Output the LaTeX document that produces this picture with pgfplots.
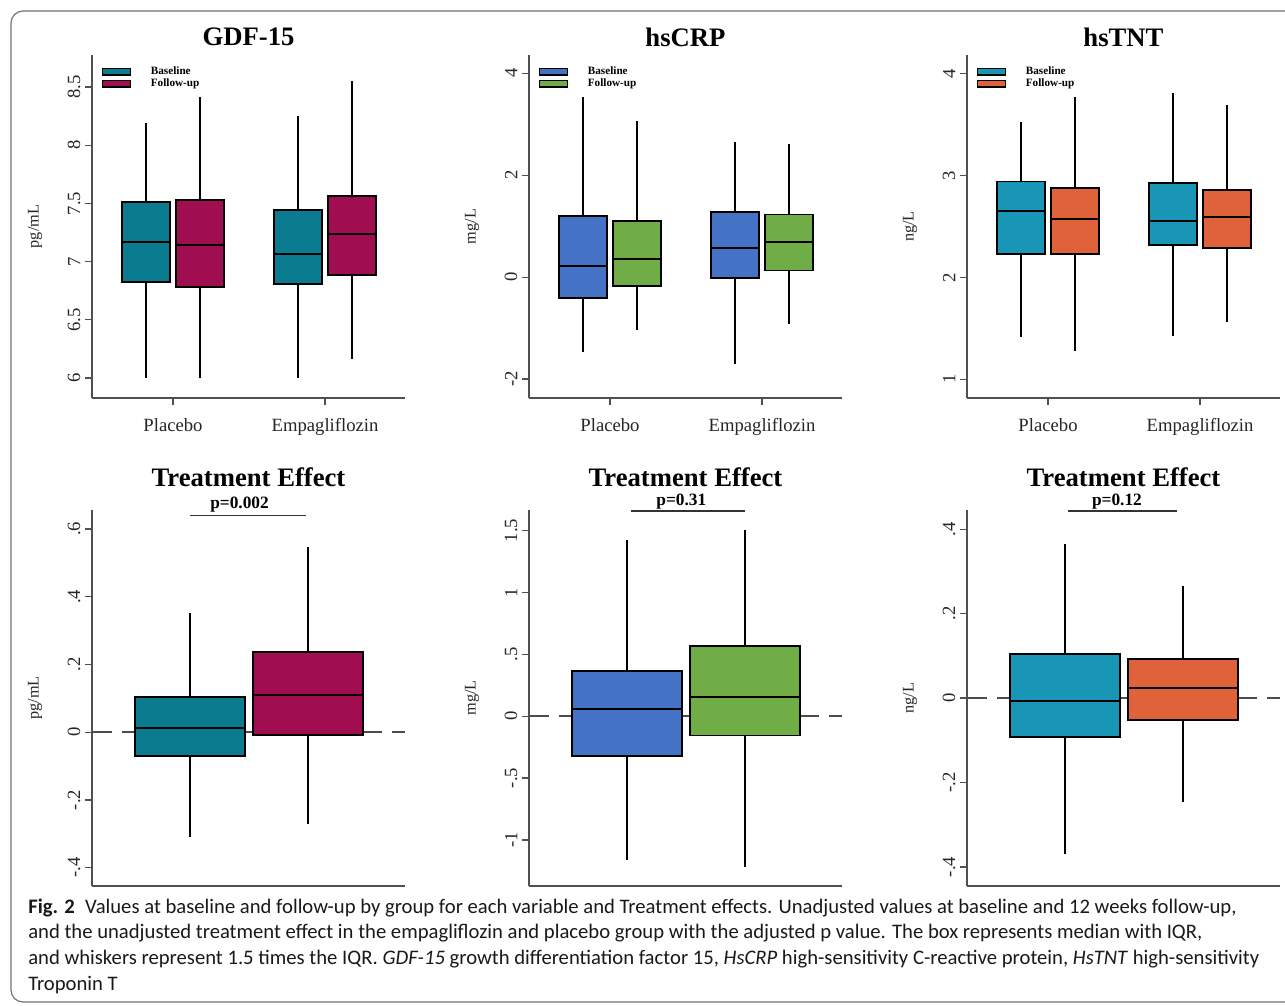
\documentclass[border=0pt]{standalone}
\usepackage{pgfplots}
\pgfplotsset{compat=1.18}
\usepgfplotslibrary{statistics}
\usepackage{fontspec}
\setmainfont{Liberation Serif}
\newfontfamily\capfont{Carlito}
\definecolor{gdfA}{HTML}{0B7B8F}
\definecolor{gdfB}{HTML}{A00D50}
\definecolor{crpA}{HTML}{4472C4}
\definecolor{crpB}{HTML}{70AD47}
\definecolor{tntA}{HTML}{1995B5}
\definecolor{tntB}{HTML}{E0623A}
\definecolor{axgray}{HTML}{505050}
\pgfplotsset{
  panel/.style={
    scale only axis, width=234.75pt,
    axis lines=left,
    axis line style={-, line width=1pt, draw=axgray},
    tick align=outside, major tick length=5.25pt,
    tick style={line width=1pt, draw=axgray},
    boxplot/draw direction=y,
    boxplot/every median/.style={draw=black, line width=1.5pt},
    /pgf/number format/assume math mode=true,
    yticklabel style={rotate=90, anchor=south, font=\fontsize{14}{16}\selectfont, text=black!85},
    xticklabel style={font=\fontsize{14}{16}\selectfont, text=black!85, yshift=-6.75pt},
    ylabel style={at={(axis description cs:-0.182,0.5)}, anchor=center, font=\fontsize{12.2}{14}\selectfont, text=black!85},
    clip=false,
  },
  toprow/.style={
    panel, height=257.25pt, xmin=0.467, xmax=2.526,
    xtick={1,2}, xticklabels={Placebo,Empagliflozin},
    title style={yshift=7.5pt, anchor=center, font=\bfseries\fontsize{20}{22}\selectfont},
    legend style={at={(axis description cs:0.032,0.974)}, anchor=north west, draw=none, fill=none,
      inner sep=0pt, font=\bfseries\fontsize{8.4}{9}\selectfont, row sep=-2.2pt,
      /tikz/every odd column/.append style={column sep=12.75pt}},
    legend cell align=left,
    legend image code/.code={\draw[#1, draw=black, line width=0.9pt] (0pt,-2.4pt) rectangle (20.8pt,2.4pt);},
  },
  botrow/.style={
    panel, height=282pt, xmin=0.176, xmax=2.815, xtick=\empty,
    title style={yshift=18.75pt, anchor=center, font=\bfseries\fontsize{20}{22}\selectfont},
  },
  zeroline/.style={forget plot, draw=black!70, line width=1.4pt, dash pattern=on 15pt off 7.5pt},
}
\begin{document}
\begin{tikzpicture}
\path[use as bounding box] (0,0) rectangle (963.75pt,754.5pt);
\draw[rounded corners=9pt, draw=black!55, line width=0.9pt] (980pt,746.25pt) -- (8.25pt,746.25pt) -- (8.25pt,3pt) -- (980pt,3pt);

% ---------- GDF-15 ----------
\begin{axis}[toprow, at={(69pt,456pt)}, anchor=south west, title={GDF-15},
  ymin=5.828, ymax=8.775, ytick={6,6.5,7,7.5,8,8.5}, yticklabels={6,6.5,7,7.5,8,8.5}, ylabel={pg/mL}]
\addlegendimage{fill=gdfA}\addlegendentry{Baseline}
\addlegendimage{fill=gdfB}\addlegendentry{Follow-up}
\addplot[forget plot, draw=black, line width=1.4pt, boxplot prepared={draw position=0.822, lower whisker=6.0, lower quartile=6.825, median=7.171, upper quartile=7.515, upper whisker=8.19, box extend=0.316, whisker extend=0, every box/.style={fill=gdfA, draw=black}}] coordinates {};
\addplot[forget plot, draw=black, line width=1.4pt, boxplot prepared={draw position=1.178, lower whisker=6.0, lower quartile=6.785, median=7.145, upper quartile=7.532, upper whisker=8.414, box extend=0.316, whisker extend=0, every box/.style={fill=gdfB, draw=black}}] coordinates {};
\addplot[forget plot, draw=black, line width=1.4pt, boxplot prepared={draw position=1.822, lower whisker=6.0, lower quartile=6.808, median=7.068, upper quartile=7.446, upper whisker=8.248, box extend=0.316, whisker extend=0, every box/.style={fill=gdfA, draw=black}}] coordinates {};
\addplot[forget plot, draw=black, line width=1.4pt, boxplot prepared={draw position=2.178, lower whisker=6.163, lower quartile=6.882, median=7.24, upper quartile=7.564, upper whisker=8.552, box extend=0.316, whisker extend=0, every box/.style={fill=gdfB, draw=black}}] coordinates {};
\end{axis}

% ---------- hsCRP ----------
\begin{axis}[toprow, at={(396.75pt,456pt)}, anchor=south west, title={hsCRP},
  ymin=-2.37, ymax=4.36, ytick={-2,0,2,4}, yticklabels={-2,0,2,4}, ylabel={mg/L}]
\addlegendimage{fill=crpA}\addlegendentry{Baseline}
\addlegendimage{fill=crpB}\addlegendentry{Follow-up}
\addplot[forget plot, draw=black, line width=1.4pt, boxplot prepared={draw position=0.822, lower whisker=-1.466, lower quartile=-0.40, median=0.216, upper quartile=1.204, upper whisker=3.54, box extend=0.316, whisker extend=0, every box/.style={fill=crpA, draw=black}}] coordinates {};
\addplot[forget plot, draw=black, line width=1.4pt, boxplot prepared={draw position=1.178, lower whisker=-1.027, lower quartile=-0.177, median=0.366, upper quartile=1.106, upper whisker=3.07, box extend=0.316, whisker extend=0, every box/.style={fill=crpB, draw=black}}] coordinates {};
\addplot[forget plot, draw=black, line width=1.4pt, boxplot prepared={draw position=1.822, lower whisker=-1.708, lower quartile=-0.02, median=0.582, upper quartile=1.283, upper whisker=2.644, box extend=0.316, whisker extend=0, every box/.style={fill=crpA, draw=black}}] coordinates {};
\addplot[forget plot, draw=black, line width=1.4pt, boxplot prepared={draw position=2.178, lower whisker=-0.91, lower quartile=0.131, median=0.687, upper quartile=1.23, upper whisker=2.618, box extend=0.316, whisker extend=0, every box/.style={fill=crpB, draw=black}}] coordinates {};
\end{axis}

% ---------- hsTNT ----------
\begin{axis}[toprow, at={(725.25pt,456pt)}, anchor=south west, title={hsTNT},
  ymin=0.817, ymax=4.18, ytick={1,2,3,4}, yticklabels={1,2,3,4}, ylabel={ng/L}]
\addlegendimage{fill=tntA}\addlegendentry{Baseline}
\addlegendimage{fill=tntB}\addlegendentry{Follow-up}
\addplot[forget plot, draw=black, line width=1.4pt, boxplot prepared={draw position=0.822, lower whisker=1.415, lower quartile=2.23, median=2.652, upper quartile=2.94, upper whisker=3.525, box extend=0.316, whisker extend=0, every box/.style={fill=tntA, draw=black}}] coordinates {};
\addplot[forget plot, draw=black, line width=1.4pt, boxplot prepared={draw position=1.178, lower whisker=1.275, lower quartile=2.23, median=2.57, upper quartile=2.874, upper whisker=3.771, box extend=0.316, whisker extend=0, every box/.style={fill=tntB, draw=black}}] coordinates {};
\addplot[forget plot, draw=black, line width=1.4pt, boxplot prepared={draw position=1.822, lower whisker=1.422, lower quartile=2.315, median=2.557, upper quartile=2.923, upper whisker=3.803, box extend=0.316, whisker extend=0, every box/.style={fill=tntA, draw=black}}] coordinates {};
\addplot[forget plot, draw=black, line width=1.4pt, boxplot prepared={draw position=2.178, lower whisker=1.563, lower quartile=2.286, median=2.593, upper quartile=2.858, upper whisker=3.686, box extend=0.316, whisker extend=0, every box/.style={fill=tntB, draw=black}}] coordinates {};
\end{axis}

% ---------- Treatment effect GDF ----------
\begin{axis}[botrow, at={(69pt,90pt)}, anchor=south west, title={Treatment Effect},
  ymin=-0.454, ymax=0.656, ytick={-0.4,-0.2,0,0.2,0.4,0.6}, yticklabels={-.4,-.2,0,.2,.4,.6}, ylabel={pg/mL}]
\addplot[zeroline] coordinates {(0.176,0) (2.815,0)};
\addplot[forget plot, draw=black, line width=1.4pt, boxplot prepared={draw position=1, lower whisker=-0.309, lower quartile=-0.071, median=0.012, upper quartile=0.104, upper whisker=0.351, box extend=0.927, whisker extend=0, every box/.style={fill=gdfA, draw=black}}] coordinates {};
\addplot[forget plot, draw=black, line width=1.4pt, boxplot prepared={draw position=2, lower whisker=-0.272, lower quartile=-0.009, median=0.109, upper quartile=0.238, upper whisker=0.546, box extend=0.927, whisker extend=0, every box/.style={fill=gdfB, draw=black}}] coordinates {};
\draw[line width=1.1pt, draw=black!80] (axis cs:1.0,0.639) -- (axis cs:1.98,0.639);
\node[anchor=base, font=\bfseries\fontsize{13}{15}\selectfont] at (axis cs:1.42,0.659) {p=0.002};
\end{axis}

% ---------- Treatment effect CRP ----------
\begin{axis}[botrow, at={(396.75pt,90pt)}, anchor=south west, title={Treatment Effect},
  ymin=-1.373, ymax=1.667, ytick={-1,-0.5,0,0.5,1,1.5}, yticklabels={-1,-.5,0,.5,1,1.5}, ylabel={mg/L}]
\addplot[zeroline] coordinates {(0.176,0) (2.815,0)};
\addplot[forget plot, draw=black, line width=1.4pt, boxplot prepared={draw position=1, lower whisker=-1.165, lower quartile=-0.324, median=0.057, upper quartile=0.367, upper whisker=1.424, box extend=0.927, whisker extend=0, every box/.style={fill=crpA, draw=black}}] coordinates {};
\addplot[forget plot, draw=black, line width=1.4pt, boxplot prepared={draw position=2, lower whisker=-1.219, lower quartile=-0.156, median=0.154, upper quartile=0.569, upper whisker=1.505, box extend=0.927, whisker extend=0, every box/.style={fill=crpB, draw=black}}] coordinates {};
\draw[line width=1.1pt, draw=black!80] (axis cs:1.036,1.659) -- (axis cs:1.997,1.659);
\node[anchor=base, font=\bfseries\fontsize{13}{15}\selectfont] at (axis cs:1.46,1.707) {p=0.31};
\end{axis}

% ---------- Treatment effect TNT ----------
\begin{axis}[botrow, at={(725.25pt,90pt)}, anchor=south west, title={Treatment Effect},
  ymin=-0.445, ymax=0.4455, ytick={-0.4,-0.2,0,0.2,0.4}, yticklabels={-.4,-.2,0,.2,.4}, ylabel={ng/L}]
\addplot[zeroline] coordinates {(0.176,0) (2.815,0)};
\addplot[forget plot, draw=black, line width=1.4pt, boxplot prepared={draw position=1, lower whisker=-0.370, lower quartile=-0.093, median=-0.007, upper quartile=0.105, upper whisker=0.365, box extend=0.927, whisker extend=0, every box/.style={fill=tntA, draw=black}}] coordinates {};
\addplot[forget plot, draw=black, line width=1.4pt, boxplot prepared={draw position=2, lower whisker=-0.246, lower quartile=-0.051, median=0.024, upper quartile=0.092, upper whisker=0.265, box extend=0.927, whisker extend=0, every box/.style={fill=tntB, draw=black}}] coordinates {};
\draw[line width=1.1pt, draw=black!80] (axis cs:1.024,0.443) -- (axis cs:1.947,0.443);
\node[anchor=base, font=\bfseries\fontsize{13}{15}\selectfont] at (axis cs:1.44,0.455) {p=0.12};
\end{axis}

% ---------- caption ----------
\begin{scope}[every node/.style={anchor=base west, inner sep=0pt, font=\capfont\fontsize{15.5}{18}\selectfont, text=black!90}]
\node at (21pt,69pt) {\textbf{Fig. 2}\enspace Values at baseline and follow-up by group for each variable and Treatment effects. Unadjusted values at baseline and 12 weeks follow-up,};
\node at (21pt,50.25pt) {and the unadjusted treatment effect in the empagliflozin and placebo group with the adjusted p value. The box represents median with IQR,};
\node at (21pt,30.75pt) {and whiskers represent 1.5 times the IQR. \textit{GDF-15} growth differentiation factor 15, \textit{HsCRP} high-sensitivity C-reactive protein, \textit{HsTNT} high-sensitivity};
\node at (21pt,11.25pt) {Troponin T};
\end{scope}
\end{tikzpicture}
\end{document}
